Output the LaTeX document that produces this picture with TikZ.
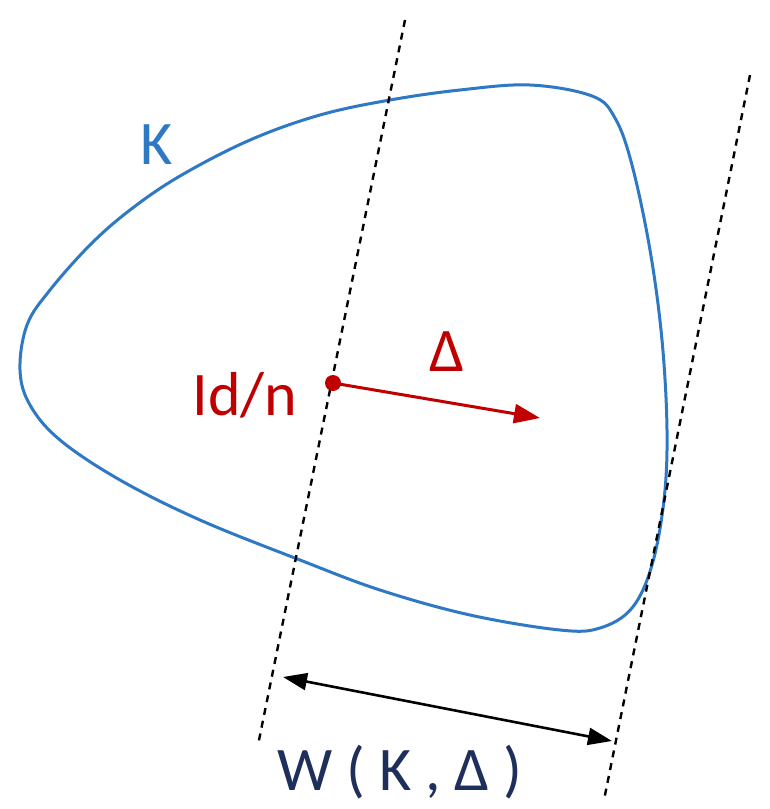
\documentclass[tikz,border=0pt]{standalone}
\usepackage{fontspec}
\setmainfont{Carlito}
\usetikzlibrary{arrows.meta}
\definecolor{kblue}{HTML}{2E78C4}
\definecolor{kred}{HTML}{C00000}
\definecolor{knavy}{HTML}{1F2F5C}
\tikzset{
  guide/.style={black, line width=2.4pt, dash pattern=on 7pt off 6pt},
  lbl/.style={font=\fontsize{62}{70}\selectfont, inner sep=0pt}
}
\begin{document}
\begin{tikzpicture}[x=1pt,y=-1pt]
\useasboundingbox (0,0) rectangle (769,809);
% convex body K
\draw[kblue, line width=3pt] plot[smooth cycle, tension=0.6] coordinates {
 (20,370) (27,325) (50,290) (90,245) (130,210) (180,176) (250,140) (320,115)
 (390,100) (460,90) (530,85) (592,96) (615,118) (632,165) (650,250) (662,340)
 (667,430) (664,500) (652,565) (632,608) (600,628) (560,630) (470,615)
 (380,590) (300,560) (200,520) (120,480) (60,440) (30,405)};
% supporting lines
\coordinate (l1t) at (405,20);
\coordinate (l1b) at (258,745);
\coordinate (l2t) at (750,75);
\coordinate (l2b) at (604,800);
\draw[guide] (l1t) -- (l1b);
\draw[guide] (l2t) -- (l2b);
% width arrow
\coordinate (wa) at (283,677);
\coordinate (wb) at (612,741);
\draw[black, line width=2.6pt, {Triangle[length=24pt,width=17pt]}-{Triangle[length=24pt,width=17pt]}] (wa) -- (wb);
% center and direction
\node[circle, fill=kred, inner sep=0pt, minimum size=16pt] (c) at (333,383) {};
\coordinate (d) at (540,418);
\draw[kred, line width=3pt, -{Triangle[length=26pt,width=19pt]}] (c.center) -- (d);
% labels
\node[lbl, text=kblue] (K) at (157,145) {K};
\node[lbl, text=kred] (idn) at (245,395) {Id/n};
\node[lbl, text=kred] (delta) at (447,352) {Δ};
\node[lbl, text=knavy] (w) at (400,772) {W ( K , Δ )};
\end{tikzpicture}
\end{document}
